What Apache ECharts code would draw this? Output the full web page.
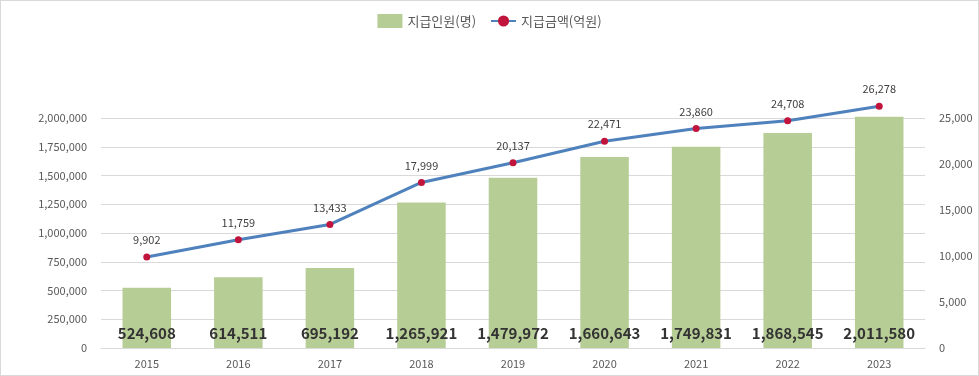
<!DOCTYPE html>
<html>
<head>
<meta charset="utf-8">
<script src="https://cdn.jsdelivr.net/npm/echarts@6/dist/echarts.min.js"></script>
<style>
  html, body { margin: 0; padding: 0; background: #fff; }
  #chart { width: 977px; height: 374px; border: 1px solid #d9d9d9; }
</style>
</head>
<body>
<div id="chart"></div>
<script>
var years = ['2015', '2016', '2017', '2018', '2019', '2020', '2021', '2022', '2023'];
var people = [524608, 614511, 695192, 1265921, 1479972, 1660643, 1749831, 1868545, 2011580];
var amount = [9902, 11759, 13433, 17999, 20137, 22471, 23860, 24708, 26278];

var chart = echarts.init(document.getElementById('chart'));
var fmt = function (v) { return Number(v).toLocaleString('en-US'); };
var font = 'Malgun Gothic, "Noto Sans CJK KR", sans-serif';

chart.setOption({
  animation: false,
  textStyle: { fontFamily: font },
  legend: {
    top: 8,
    left: 'center',
    itemGap: 14,
    textStyle: { color: '#595959', fontSize: 13, fontFamily: font },
    data: [
      { name: '지급인원(명)', icon: 'rect', itemWidth: 22, itemHeight: 6 },
      { name: '지급금액(억원)', itemWidth: 24, itemHeight: 7 }
    ]
  },
  grid: { left: 100, right: 53, top: 117, bottom: 27 },
  xAxis: {
    type: 'category',
    data: years,
    axisTick: { show: false },
    axisLine: { lineStyle: { color: '#d9d9d9' } },
    axisLabel: { color: '#595959', fontSize: 11, margin: 10 }
  },
  yAxis: [
    {
      type: 'value', min: 0, max: 2000000, interval: 250000,
      axisLabel: { color: '#595959', fontSize: 11, margin: 14, formatter: fmt },
      splitLine: { lineStyle: { color: '#d9d9d9' } }
    },
    {
      type: 'value', min: 0, max: 25000, interval: 5000,
      axisLabel: { color: '#595959', fontSize: 11, margin: 14, formatter: fmt },
      splitLine: { show: false }
    }
  ],
  series: [
    {
      name: '지급인원(명)',
      type: 'bar',
      data: people,
      clip: false,
      barWidth: '53%',
      itemStyle: { color: '#b7cd96' },
      label: {
        show: true, position: 'insideBottom', distance: 7,
        color: '#333333', fontSize: 15, fontWeight: 'bold',
        formatter: function (p) { return fmt(p.value); }
      }
    },
    {
      name: '지급금액(억원)',
      type: 'line',
      yAxisIndex: 1,
      data: amount,
      clip: false,
      symbol: 'circle',
      symbolSize: 7,
      lineStyle: { color: '#4f81bd', width: 3 },
      itemStyle: { color: '#c0143c' },
      label: {
        show: true, position: 'top', distance: 8,
        color: '#404040', fontSize: 11,
        formatter: function (p) { return fmt(p.value); }
      }
    }
  ]
});
</script>
</body>
</html>
